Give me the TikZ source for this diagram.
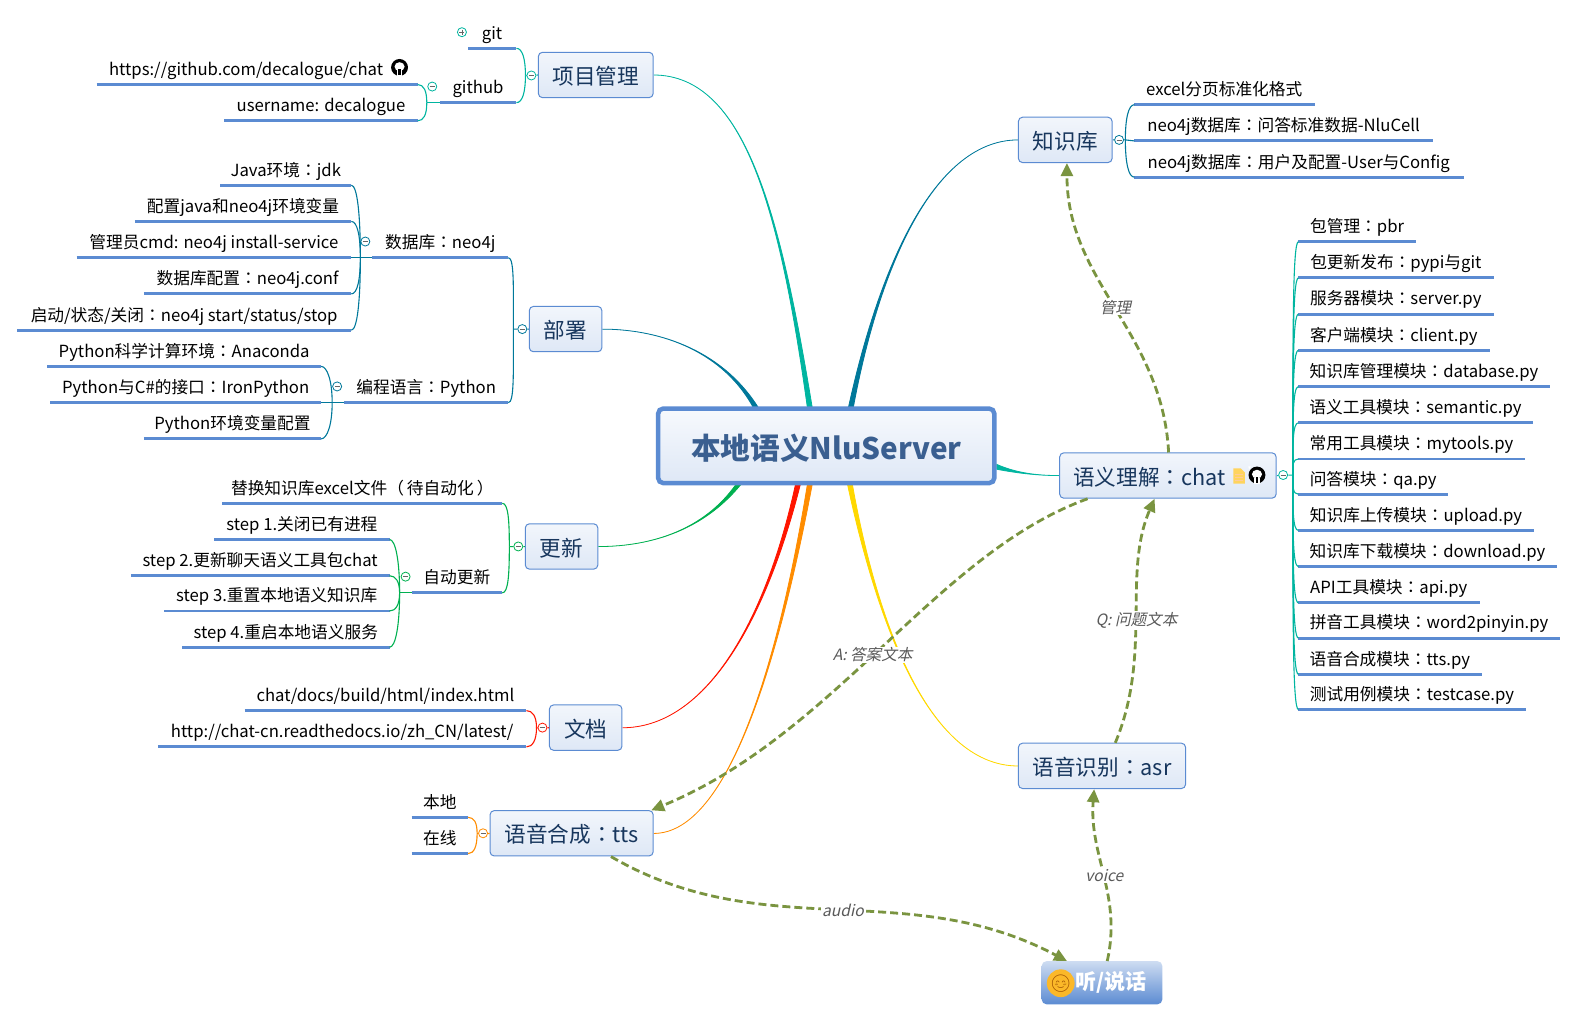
\documentclass[tikz,border=0pt]{standalone}
\usepackage{fontspec}
\setmainfont{Noto Sans CJK SC}[ItalicFont={Noto Sans CJK SC},ItalicFeatures={FakeSlant=0.22}]
\newfontfamily\emojifont{Noto Emoji}
\newfontfamily\tcfont{Noto Sans CJK TC}
\usetikzlibrary{arrows.meta,backgrounds,calc}

\definecolor{linkblue}{HTML}{5B8BD2}
\definecolor{toptext}{HTML}{17365D}
\definecolor{rootext}{HTML}{3A5F90}
\definecolor{teala}{HTML}{00B5A0}
\definecolor{tealb}{HTML}{00789A}
\definecolor{greena}{HTML}{00B050}
\definecolor{reda}{HTML}{FF1500}
\definecolor{orangea}{HTML}{FF8C00}
\definecolor{yellowa}{HTML}{FFD800}
\definecolor{olivea}{HTML}{7A9440}
\definecolor{sheety}{HTML}{FFD45E}
\definecolor{smiley}{HTML}{FBB829}

\tikzset{
  rootbox/.style={draw=linkblue,line width=4.5pt,rounded corners=5pt,top color=white!95!linkblue,bottom color=linkblue!20,
    text=rootext,font=\fontsize{29.5}{34}\selectfont\bfseries,text height=31pt,text depth=4pt,minimum width=334pt,minimum height=74pt},
  topic/.style={draw=linkblue,line width=1pt,rounded corners=4pt,top color=white!92!linkblue,bottom color=linkblue!20,
    text=toptext,font=\fontsize{21.5}{25}\selectfont,text height=22pt,text depth=3pt,minimum height=45pt,inner xsep=0pt},
  leaf/.style={font=\fontsize{16.6}{20}\selectfont,text height=12pt,text depth=4pt,inner ysep=5pt,inner xsep=0pt,outer sep=0pt,
    append after command={(\tikzlastnode.south west) edge[leafline] (\tikzlastnode.south east)}},
  leafline/.style={-,draw=linkblue,line width=2.9pt},
  leafl/.style={leaf,anchor=south east,minimum width=#1},
  leafr/.style={leaf,anchor=south west,minimum width=#1},
  fold/.style={circle,draw=#1,fill=white,line width=.8pt,minimum size=9pt,inner sep=0pt,
    path picture={\draw[black!60,line width=.7pt] ([xshift=-2.5pt]path picture bounding box.center) -- ([xshift=2.5pt]path picture bounding box.center);}},
  foldplus/.style={fold=#1,
    append after command={(\tikzlastnode.center) ++(0,-2.5) edge[-,black!60,line width=.7pt] ++(0,5)}},
  twig/.style={-,line width=1.1pt,draw=#1},
  upl/.style={out=90,in=0,in distance=6pt,looseness=1.5},
  dnl/.style={out=-90,in=0,in distance=6pt,looseness=1.5},
  upr/.style={out=90,in=180,in distance=6pt,looseness=1.5},
  dnr/.style={out=-90,in=180,in distance=6pt,looseness=1.5},
  relate/.style={draw=olivea,line width=2.8pt,dash pattern=on 8pt off 4pt,-{Triangle[length=13pt,width=12pt]}},
  note/.style={fill=white,inner sep=1pt,text=black!65,font=\fontsize{15.5}{18}\selectfont\itshape},
}

\newcommand{\zhc}{{\tcfont ：}}
\newcommand{\spoke}[5]{\filldraw[#1,line width=.8pt] ([xshift=-2.4pt]root.#2) .. controls #3 and #4 .. (#5) .. controls #4 and #3 .. ([xshift=2.4pt]root.#2) -- cycle;}
\newcommand{\ghmark}[1]{
  \fill[black] (#1) circle (8.4pt);
  \fill[white] ($(#1)+(0,-.8)$) ellipse (5pt and 4.4pt);
  \fill[white] ($(#1)+(-2.6,3)$) rectangle ($(#1)+(2.6,8.8)$);
  \fill[black] ($(#1)+(-1.2,2)$) rectangle ($(#1)+(1.2,7.8)$);
  \fill[white] ($(#1)+(-8.6,-8.6)$) -- ($(#1)+(-6,-8.6)$) -- ($(#1)+(-7.8,-5.5)$) -- cycle;
}

\begin{document}
\begin{tikzpicture}[x=1pt,y=-1pt,scale=1.0064,transform shape]
  \useasboundingbox (0,0) rectangle (1568,1014.5);

  % centre and main topics
  \node [rootbox] (root) at (821,443) {本地语义NluServer};
  \node [topic,minimum width=114pt] (proj) at (592,74.5) {项目管理};
  \node [topic,minimum width=72pt] (deploy) at (562,327) {部署};
  \node [topic,minimum width=72pt] (update) at (558,543) {更新};
  \node [topic,minimum width=72pt] (docs) at (582,723) {文档};
  \node [topic,minimum width=162pt] (tts) at (568,828) {语音合成\zhc tts};
  \node [topic,minimum width=93pt] (kb) at (1058.5,139) {知识库};
  \node [topic,minimum width=215pt] (chat) at (1160.5,472.5) {语义理解\zhc chat\hspace*{37pt}};
  \node [topic,minimum width=166pt] (asr) at (1095,761) {语音识别\zhc asr};
  \node [minimum width=120pt,minimum height=43pt,rounded corners=5pt,top color=linkblue!30,bottom color=linkblue,text=white,
    font=\fontsize{21}{25}\selectfont\bfseries,inner xsep=0pt] (talk) at (1095,976.5) {\hspace*{18pt}听/说话};

  % left leaves
  \node [leafr=48pt] (git) at (465,48) {git};
  \node [leafr=76pt] (github) at (437,102) {github};
  \node [leafl=319pt] (url) at (415,84) {https://github.com/decalogue/chat\hspace*{22pt}};
  \node [leafl=192pt] (user) at (415,120) {username: decalogue};

  \node [leafr=135pt] (neo) at (370,256) {数据库\zhc neo4j};
  \node [leafl=130pt] (java) at (349,184) {Java环境\zhc jdk};
  \node [leafl=215pt] (envar) at (349,220) {配置java和neo4j环境变量};
  \node [leafl=273pt] (admin) at (349,256) {管理员cmd: neo4j install-service};
  \node [leafl=206pt] (conf) at (349,292) {数据库配置\zhc neo4j.conf};
  \node [leafl=332pt] (start) at (349,328) {启动/状态/关闭\zhc neo4j start/status/stop};

  \node [leafr=163pt] (python) at (342,400) {编程语言\zhc Python};
  \node [leafl=272pt] (conda) at (319,364) {Python科学计算环境\zhc Anaconda};
  \node [leafl=269pt] (iron) at (319,400) {Python与C\#的接口\zhc IronPython};
  \node [leafl=176pt] (pyenv) at (319,436) {Python环境变量配置};

  \node [leafl=278pt] (excel) at (499,500) {替换知识库excel文件{\tcfont （}\hspace{3pt}待自动化\hspace{3pt}{\tcfont ）}};
  \node [leafr=90pt] (auto) at (409,589) {自动更新};
  \node [leafl=174pt] (stepa) at (387,536) {step 1.关闭已有进程};
  \node [leafl=257pt] (stepb) at (387,572) {step 2.更新聊天语义工具包chat};
  \node [leafl=224pt] (stepc) at (387,607) {step 3.重置本地语义知识库};
  \node [leafl=206pt] (stepd) at (387,643) {step 4.重启本地语义服务};

  \node [leafl=280pt] (index) at (523,706) {chat/docs/build/html/index.html};
  \node [leafl=366pt] (rtd) at (523,742) {http://chat-cn.readthedocs.io/zh\_CN/latest/};
  \node [leafl=56pt] (local) at (465,812) {本地};
  \node [leafl=56pt] (online) at (465,848) {在线};

  % right leaves
  \node [leafr=179pt] (paging) at (1127,104) {excel分页标准化格式};
  \node [leafr=297pt] (nlucell) at (1127,140) {neo4j数据库\zhc 问答标准数据-NluCell};
  \node [leafr=327pt] (usercfg) at (1127,176) {neo4j数据库\zhc 用户及配置-User与Config};

  \node [leafr=117pt] (pbr) at (1290,240) {包管理\zhc pbr};
  \node [leafr=194pt] (pypi) at (1290,276) {包更新发布\zhc pypi与git};
  \node [leafr=194pt] (server) at (1290,312) {服务器模块\zhc server.py};
  \node [leafr=190pt] (client) at (1290,348) {客户端模块\zhc client.py};
  \node [leafr=250pt] (database) at (1290,384) {知识库管理模块\zhc database.py};
  \node [leafr=233pt] (semantic) at (1290,420) {语义工具模块\zhc semantic.py};
  \node [leafr=225pt] (mytools) at (1290,456) {常用工具模块\zhc mytools.py};
  \node [leafr=149pt] (qa) at (1290,491) {问答模块\zhc qa.py};
  \node [leafr=234pt] (upload) at (1290,527) {知识库上传模块\zhc upload.py};
  \node [leafr=257pt] (download) at (1290,563) {知识库下载模块\zhc download.py};
  \node [leafr=180pt] (api) at (1290,599) {API工具模块\zhc api.py};
  \node [leafr=260pt] (pinyin) at (1290,634) {拼音工具模块\zhc word2pinyin.py};
  \node [leafr=182pt] (ttspy) at (1290,670) {语音合成模块\zhc tts.py};
  \node [leafr=226pt] (testcase) at (1290,705) {测试用例模块\zhc testcase.py};

  % fold marks and forks
  \node [foldplus=teala] (gitfold) at (459,32) {};
  \node [fold=teala] (hubfold) at (429.5,86) {};
  \node [fold=teala] (projfold) at (528,75) {};
  \node [fold=tealb] (neofold) at (363,240) {};
  \node [fold=tealb] (pyfold) at (335,384) {};
  \node [fold=tealb] (depfold) at (519,327) {};
  \node [fold=greena] (autofold) at (403,573) {};
  \node [fold=greena] (updfold) at (515,543) {};
  \node [fold=reda] (docfold) at (539,723) {};
  \node [fold=orangea] (ttsfold) at (480,828) {};
  \node [fold=tealb] (kbfold) at (1112,139) {};
  \node [fold=teala] (chatfold) at (1275,472) {};

  \coordinate (hubfork) at (424,102);
  \coordinate (projfork) at (522,75);
  \coordinate (neofork) at (358,256);
  \coordinate (pyfork) at (330,400);
  \coordinate (depfork) at (510,327);
  \coordinate (autofork) at (397,589);
  \coordinate (updfork) at (506,543);
  \coordinate (docfork) at (533,723);
  \coordinate (ttsfork) at (474,828);
  \coordinate (kbfork) at (1118,139);
  \coordinate (chatfork) at (1284.5,472);

  % branches off the centre
  \begin{pgfonlayer}{background}
    \spoke{teala}{113.5}{(775,210)}{(740,75)}{proj.east}
    \spoke{tealb}{151.6}{(715,345)}{(650,327)}{deploy.east}
    \spoke{greena}{204.9}{(700,525)}{(650,543)}{update.east}
    \spoke{reda}{234.3}{(760,620)}{(700,723)}{docs.east}
    \spoke{orangea}{247.7}{(775,650)}{(725,828)}{tts.east}
    \spoke{yellowa}{301.6}{(870,610)}{(920,761)}{asr.west}
    \spoke{tealb}{58.4}{(875,260)}{(930,139)}{kb.west}
    \filldraw[teala,line width=.8pt] ([yshift=2.4pt]root.353.25) .. controls (1010,470) and (1030,472.5) .. (chat.west) .. controls (1030,472.5) and (1010,470) .. ([yshift=-2.4pt]root.353.25) -- cycle;
  \end{pgfonlayer}

  % project
  \draw [twig=teala] (proj.west) -- (projfold) -- (projfork);
  \draw [twig=teala] (projfork) to[upl] (git.south east);
  \draw [twig=teala] (projfork) to[dnl] (github.south east);
  \draw [twig=teala] (github.south west) -- (hubfork);
  \draw [twig=teala] (hubfork) to[upl] (url.south east);
  \draw [twig=teala] (hubfork) to[dnl] (user.south east);

  % deploy
  \draw [twig=tealb] (deploy.west) -- (depfold) -- (depfork);
  \draw [twig=tealb] (depfork) to[upl] (neo.south east);
  \draw [twig=tealb] (depfork) to[dnl] (python.south east);
  \draw [twig=tealb] (neo.south west) -- (neofork) -- (admin.south east);
  \draw [twig=tealb] (neofork) to[upl] (java.south east);
  \draw [twig=tealb] (neofork) to[upl] (envar.south east);
  \draw [twig=tealb] (neofork) to[dnl] (conf.south east);
  \draw [twig=tealb] (neofork) to[dnl] (start.south east);
  \draw [twig=tealb] (python.south west) -- (pyfork) -- (iron.south east);
  \draw [twig=tealb] (pyfork) to[upl] (conda.south east);
  \draw [twig=tealb] (pyfork) to[dnl] (pyenv.south east);

  % update
  \draw [twig=greena] (update.west) -- (updfold) -- (updfork);
  \draw [twig=greena] (updfork) to[upl] (excel.south east);
  \draw [twig=greena] (updfork) to[dnl] (auto.south east);
  \draw [twig=greena] (auto.south west) -- (autofork);
  \draw [twig=greena] (autofork) to[upl] (stepa.south east);
  \draw [twig=greena] (autofork) to[upl] (stepb.south east);
  \draw [twig=greena] (autofork) to[dnl] (stepc.south east);
  \draw [twig=greena] (autofork) to[dnl] (stepd.south east);

  % docs and tts
  \draw [twig=reda] (docs.west) -- (docfold) -- (docfork);
  \draw [twig=reda] (docfork) to[upl] (index.south east);
  \draw [twig=reda] (docfork) to[dnl] (rtd.south east);
  \draw [twig=orangea] (tts.west) -- (ttsfold) -- (ttsfork);
  \draw [twig=orangea] (ttsfork) to[upl] (local.south east);
  \draw [twig=orangea] (ttsfork) to[dnl] (online.south east);

  % knowledge base
  \draw [twig=tealb] (kb.east) -- (kbfold) -- (kbfork) -- (nlucell.south west);
  \draw [twig=tealb] (kbfork) to[upr] (paging.south west);
  \draw [twig=tealb] (kbfork) to[dnr] (usercfg.south west);

  % chat modules
  \draw [twig=teala] (chat.east) -- (chatfold) -- (chatfork);
  \draw [twig=teala] (chatfork) to[upr] (pbr.south west);
  \draw [twig=teala] (chatfork) to[upr] (pypi.south west);
  \draw [twig=teala] (chatfork) to[upr] (server.south west);
  \draw [twig=teala] (chatfork) to[upr] (client.south west);
  \draw [twig=teala] (chatfork) to[upr] (database.south west);
  \draw [twig=teala] (chatfork) to[upr] (semantic.south west);
  \draw [twig=teala] (chatfork) to[upr] (mytools.south west);
  \draw [twig=teala] (chatfork) to[dnr] (qa.south west);
  \draw [twig=teala] (chatfork) to[dnr] (upload.south west);
  \draw [twig=teala] (chatfork) to[dnr] (download.south west);
  \draw [twig=teala] (chatfork) to[dnr] (api.south west);
  \draw [twig=teala] (chatfork) to[dnr] (pinyin.south west);
  \draw [twig=teala] (chatfork) to[dnr] (ttspy.south west);
  \draw [twig=teala] (chatfork) to[dnr] (testcase.south west);

  % relations
  \draw [relate] ([xshift=.5pt]chat.north) .. controls (1155,330) and (1060,280) .. ([xshift=1.5pt]kb.south) node[note,pos=.5] {管理};
  \draw [relate] ([xshift=-80pt]chat.south) .. controls (930,550) and (830,730) .. ([xshift=79pt]tts.north) node[note,pos=.522] {A: 答案文本};
  \draw [relate] ([xshift=13pt]asr.north) .. controls (1145,650) and (1115,570) .. ([xshift=-13.5pt]chat.south) node[note,pos=.48] {Q: 问题文本};
  \draw [relate] ([xshift=5pt]talk.north) .. controls (1115,890) and (1082,850) .. ([xshift=-8pt]asr.south) node[note,pos=.5] {voice};
  \draw [relate] ([xshift=39pt]tts.south) .. controls (760,940) and (900,870) .. ([xshift=-35pt]talk.north) node[note,pos=.515] {audio};

  % icons
  \ghmark{397,67}
  \ghmark{1249,472}
  \fill[sheety] (1225.5,465.5) -- (1233,465.5) -- (1237,469.5) -- (1237,480.5) -- (1225.5,480.5) -- cycle;
  \draw[white!60!orange,line width=.7pt] (1227.5,471) -- (1235,471) (1227.5,474) -- (1235,474) (1227.5,477) -- (1235,477);
  \node [circle,fill=smiley,minimum size=16pt,inner sep=0pt,text=orange!60!black,font=\fontsize{17}{17}\selectfont\emojifont] (smile) at (1054,977) {😊};
\end{tikzpicture}
\end{document}
